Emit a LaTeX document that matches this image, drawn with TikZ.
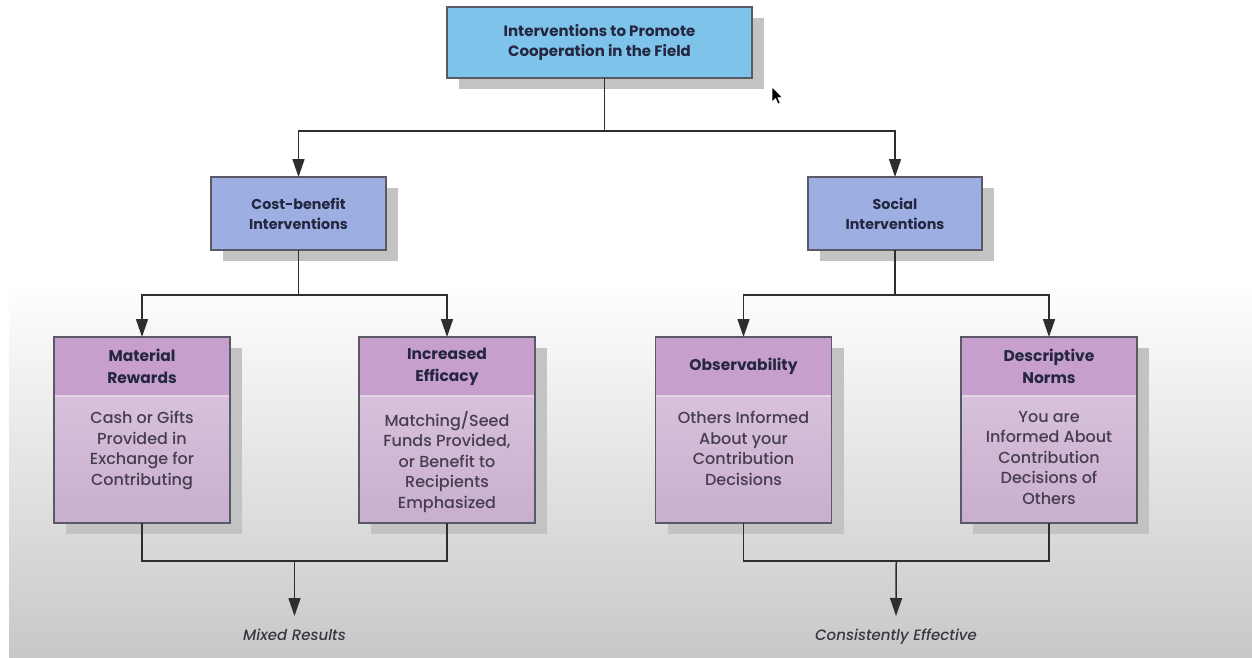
\documentclass[tikz,border=0pt]{standalone}
\usepackage{fontspec}
\setmainfont{Poppins}
\newfontfamily\bodyfont{Poppins Medium}
\usetikzlibrary{arrows.meta,calc}

\definecolor{topblue}{HTML}{7EC3E9}
\definecolor{midblue}{HTML}{9DAFE2}
\definecolor{hdrpurple}{HTML}{C69FCC}
\definecolor{bodytop}{HTML}{DECAE1}
\definecolor{bodybot}{HTML}{C8AECF}
\definecolor{edge}{HTML}{5A5A66}
\definecolor{shadowgray}{HTML}{C3C3C3}
\definecolor{headtext}{HTML}{252640}
\definecolor{bodytext}{HTML}{463D50}
\definecolor{bgbottom}{HTML}{C8C8C8}
\definecolor{wire}{HTML}{2E2E2E}

\tikzset{
  shadowed/.style={preaction={fill=shadowgray,transform canvas={xshift=12pt,yshift=-11pt}}},
  titlebox/.style={shadowed,draw=edge,line width=1.2pt,fill=#1,align=center,
    inner sep=0pt,outer sep=0pt,text=headtext,font=\bfseries\fontsize{15}{20}\selectfont},
  catframe/.style={shadowed,draw=edge,line width=1.2pt,top color=bodytop,bottom color=bodybot,
    minimum width=176,minimum height=186,inner sep=0pt,outer sep=0pt},
  cathead/.style={fill=hdrpurple,minimum width=176,minimum height=59,inner sep=0pt,outer sep=0pt,
    align=center,text=headtext,font=\bfseries\fontsize{15.5}{22}\selectfont},
  catbody/.style={align=center,inner sep=0pt,text=bodytext,font=\bodyfont\fontsize{16}{20.5}\selectfont},
  divider/.style={line width=1.5pt,color=white!55!hdrpurple},
  frameline/.style={draw=edge,line width=1.2pt},
  conn/.style={draw=wire,line width=1.5pt},
  arr/.style={conn,-{Triangle[length=18pt,width=12pt]}},
  outcome/.style={text=bodytext!85!black,font=\bodyfont\itshape\fontsize{15}{18}\selectfont,
    inner xsep=2pt,inner ysep=13pt},
}

% category box: name, x centre, heading, description
\newcommand\catbox[4]{%
  \node[catframe] (#1) at (#2,430) {};
  \node[cathead,anchor=north] (#1h) at (#1.north) {#3};
  \draw[divider] (#1h.south west) -- (#1h.south east);
  \draw[frameline] (#1.north west) rectangle (#1.south east);
  \node[catbody,anchor=north] (#1b) at ($(#1h.south)+(0,15)$) {#4};
}

\begin{document}
\begin{tikzpicture}[x=1pt,y=-1pt]
\useasboundingbox (0,0) rectangle (1252,657);
\fill[white] (0,0) rectangle (1252,657);
\shade[top color=white,bottom color=bgbottom] (9,280) rectangle (1252,657);

% top level
\node[titlebox=topblue,minimum width=305,minimum height=71] (root) at (599.5,42.5)
  {Interventions to Promote\\Cooperation in the Field};

% second level
\node[titlebox=midblue,minimum width=175,minimum height=73,font=\bfseries\fontsize{14.3}{20}\selectfont] (cb) at (298.5,213.5)
  {Cost-benefit\\Interventions};
\node[titlebox=midblue,minimum width=174,minimum height=73,font=\bfseries\fontsize{14.3}{20}\selectfont] (soc) at (895,213.5)
  {Social\\Interventions};

% third level
\catbox{mat}{142}{Material\\Rewards}{Cash or Gifts\\Provided in\\Exchange for\\Contributing}
\catbox{eff}{447}{Increased\\Efficacy}{Matching/Seed\\Funds Provided,\\or Benefit to\\Recipients\\Emphasized}
\catbox{obs}{743.5}{Observability}{Others Informed\\About your\\Contribution\\Decisions}
\catbox{dsc}{1049}{Descriptive\\Norms}{You are\\Informed About\\Contribution\\Decisions of\\Others}

% outcomes
\node[outcome,anchor=north] (mixed) at (294.5,616) {Mixed Results};
\node[outcome,anchor=north] (cons) at (896,616) {Consistently Effective};

% connectors
\draw[conn] ($(root.south)+(5,0)$) -- ++(0,53) coordinate (j1);
\draw[arr] (j1) -| (cb.north);
\draw[arr] (j1) -| (soc.north);

\draw[conn] (cb.south) -- ++(0,45) coordinate (j2);
\draw[arr] (j2) -| (mat.north);
\draw[arr] (j2) -| (eff.north);

\draw[conn] (soc.south) -- ++(0,45) coordinate (j3);
\draw[arr] (j3) -| (obs.north);
\draw[arr] (j3) -| (dsc.north);

\draw[conn] (mat.south) |- ($(mat.south)!0.5!(eff.south)+(0,38)$) coordinate (m1) -| (eff.south);
\draw[arr] (m1) -- (mixed.north);
\draw[conn] (obs.south) |- ($(obs.south)!0.5!(dsc.south)+(0,38)$) coordinate (m2) -| (dsc.south);
\draw[arr] (m2) -- (cons.north);

% mouse pointer
\filldraw[fill=black,draw=white,line width=0.6pt,shift={(772,87)}]
  (0,0) -- (0,15) -- (3.5,11.5) -- (6,17) -- (8.2,16) -- (5.8,10.6) -- (10.5,10.6) -- cycle;
\end{tikzpicture}
\end{document}
